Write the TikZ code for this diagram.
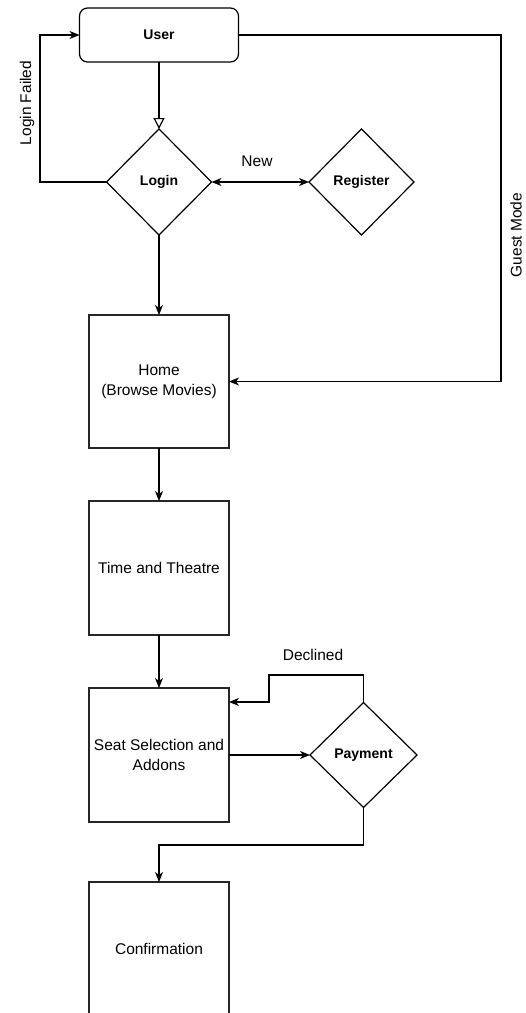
\documentclass[tikz,border=0pt]{standalone}
\usepackage{fontspec}
\setmainfont{Liberation Sans}
\usetikzlibrary{shapes.geometric,arrows.meta}
\begin{document}
\begin{tikzpicture}[x=1pt,y=-1pt,
  every node/.style={inner sep=0pt, outer sep=0pt},
  lbl/.style={font=\fontsize{15.5}{20}\selectfont, align=center},
  bold/.style={font=\fontsize{14}{17}\selectfont\bfseries},
  stepbox/.style={draw=black!85, line width=1.3pt, minimum width=140pt, minimum height=133pt, lbl},
  decision/.style={draw, line width=1.2pt, diamond, minimum width=105pt, minimum height=106pt, bold},
  conn/.style={line width=1.2pt, -{Stealth[length=10pt,width=8pt,inset=3pt]}},
  biconn/.style={line width=1.2pt, {Stealth[length=10pt,width=8pt,inset=3pt]}-{Stealth[length=10pt,width=8pt,inset=3pt]}},
  openconn/.style={line width=1.2pt, -{Triangle[open,length=11pt,width=11pt]}}
]
\useasboundingbox (0,0) rectangle (526,1013);
\fill[white] (0,0) rectangle (526,1013);

\node[draw, line width=1.2pt, rounded corners=8pt, minimum width=159pt, minimum height=54pt, bold] (user) at (159,35) {User};
\node[decision] (login) at (159,182) {Login};
\node[decision] (register) at (361.5,182) {Register};
\node[stepbox] (home) at (159,381.5) {Home\\(Browse Movies)};
\node[stepbox, minimum height=134pt] (time) at (159,568) {Time and Theatre};
\node[stepbox, minimum height=134pt] (seat) at (159,755) {Seat Selection and\\Addons};
\node[decision, minimum width=107pt, minimum height=105pt] (pay) at (363.5,755) {Payment};
\node[stepbox, minimum height=134pt] (conf) at (159,949) {Confirmation};

% labels
\node[lbl, rotate=90] (lf) at (27,103) {Login Failed};
\node[lbl] (new) at (257,161) {New};
\node[lbl, rotate=90] (gm) at (516,235) {Guest Mode};
\node[lbl] (dec) at (313,655) {Declined};

% coordinates for bends
\coordinate (lfbend) at (40,182);
\coordinate (gmbend) at (501,35);
\coordinate (gmcorner) at (501,381.5);
\coordinate (d1) at (363.5,675);
\coordinate (d2) at (269,675);
\coordinate (d3) at (269,702);
\coordinate (p1) at (363.5,845);

% connectors
\draw[openconn] (user.south) -- (login.north);
\draw[conn] (login.west) -- (lfbend) |- (user.west);
\draw[biconn] (login.east) -- (register.west);
\draw[conn] (user.east) -- (gmbend) -- (gmcorner) -- (home.east);
\draw[conn] (login.south) -- (home.north);
\draw[conn] (home.south) -- (time.north);
\draw[conn] (time.south) -- (seat.north);
\draw[conn] (seat.east) -- (pay.west);
\draw[conn] (pay.north) -- (d1) -- (d2) -- (d3) -- (seat.north east |- d3);
\draw[conn] (pay.south) -- (p1) -| (conf.north);
\end{tikzpicture}
\end{document}
